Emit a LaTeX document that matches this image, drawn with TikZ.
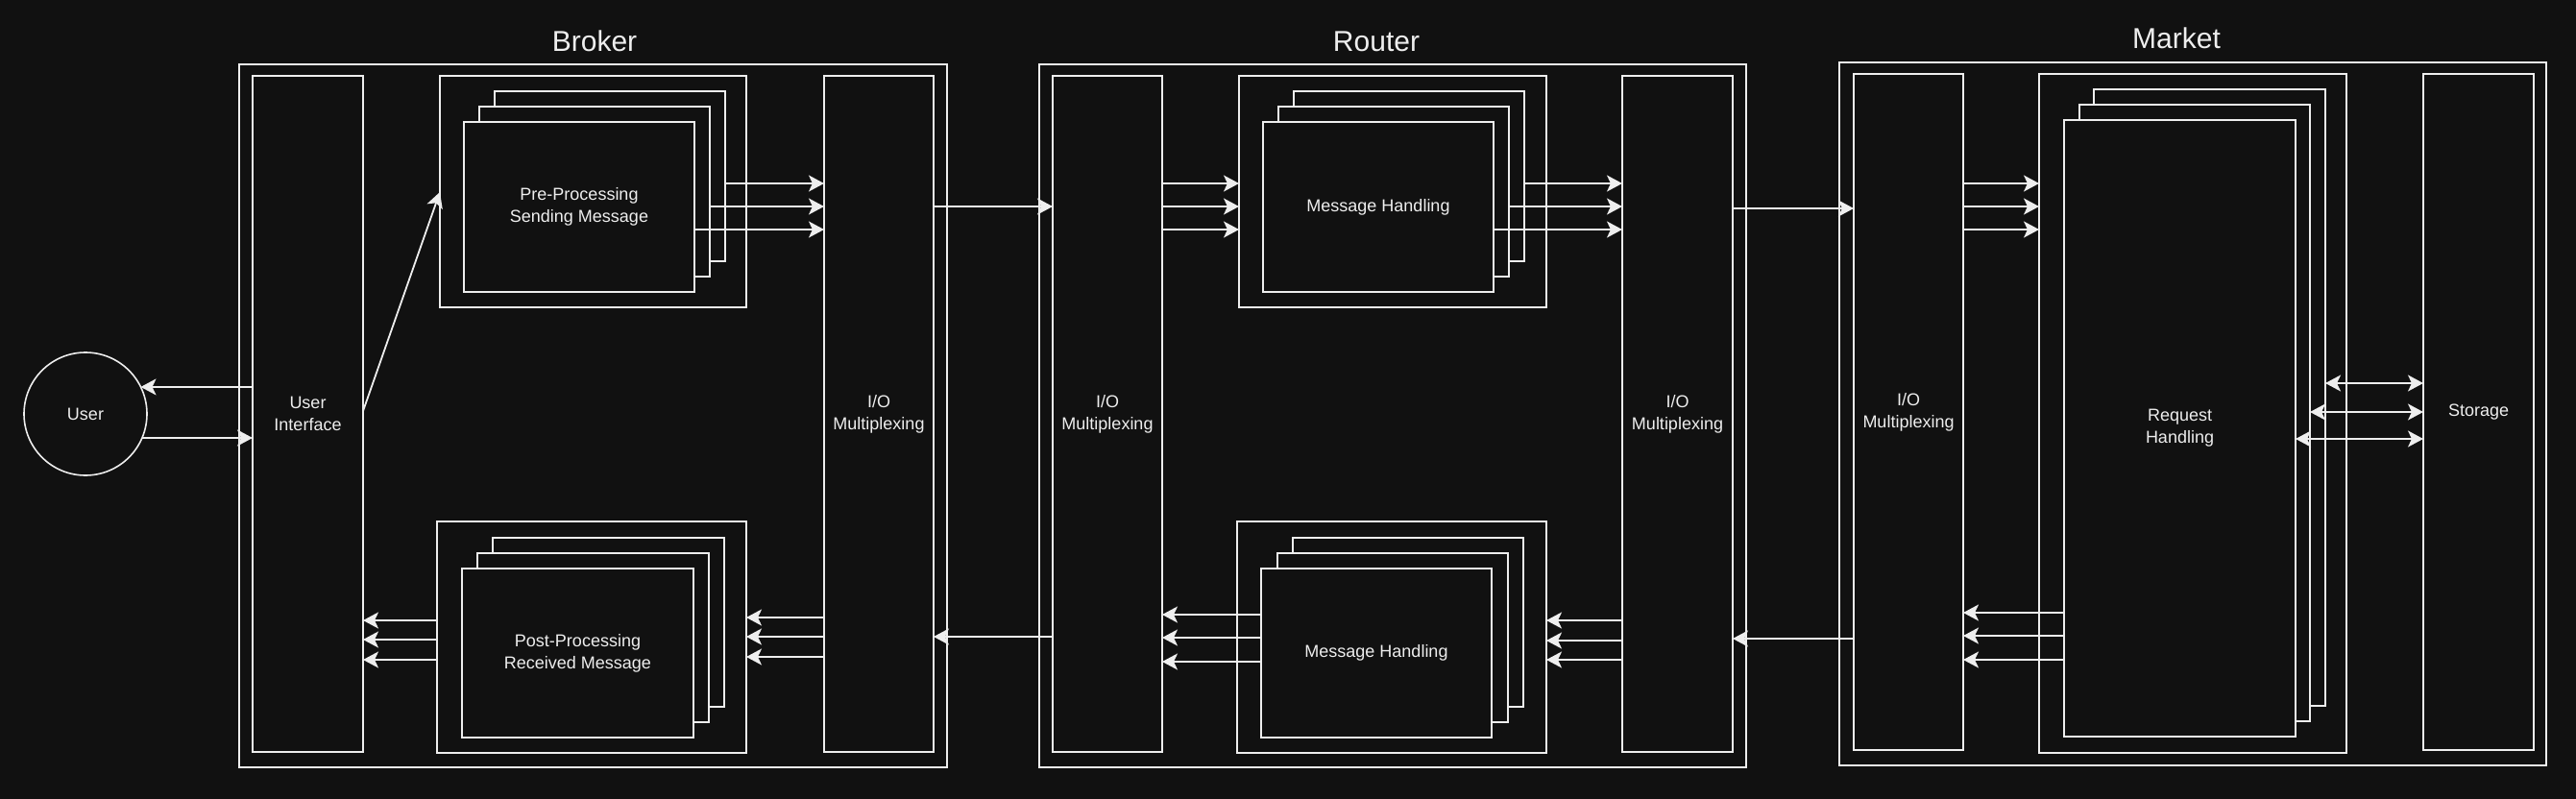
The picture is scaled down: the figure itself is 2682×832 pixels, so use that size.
\documentclass[tikz,border=0pt]{standalone}
\usepackage{fontspec}
\setmainfont{Liberation Sans}
\usetikzlibrary{arrows.meta}
\definecolor{bg}{HTML}{111111}
\definecolor{fg}{HTML}{EEEEEE}
\newcommand\mybox[6]{\node[box, minimum width={(#4-#2)*1pt}, minimum height={(#5-#3)*1pt}] (#1) at (#2,#3) {#6};}
\begin{document}
\begin{tikzpicture}[x=1pt,y=-1pt,
  box/.style={draw=fg, line width=1.6pt, fill=bg, inner sep=0pt, outer sep=0pt, anchor=north west, align=center, text=fg, font=\fontsize{18}{23}\selectfont},
  tip/.tip={Stealth[length=16pt,width=17pt,inset=4pt]},
  arr/.style={draw=fg, line width=1.8pt, -tip},
  barr/.style={draw=fg, line width=1.8pt, tip-tip},
  title/.style={text=fg, font=\fontsize{30}{36}\selectfont}]
\fill[bg] (0,0) rectangle (2682,832);
\useasboundingbox (0,0) rectangle (2682,832);
% titles
\node[title] (tbrk) at (619,43) {Broker};
\node[title] (trtr) at (1433,43) {Router};
\node[title] (tmkt) at (2266,40) {Market};
% Broker
\mybox{brk}{249}{67}{986}{799}{}
\mybox{ui}{263}{79}{378}{783}{User\\Interface}
\mybox{preo}{458}{79}{777}{320}{}
\mybox{preb}{515}{95}{755}{272}{}
\mybox{prem}{499}{111}{739}{288}{}
\mybox{pref}{483}{127}{723}{304}{Pre-Processing\\Sending Message}
\mybox{bio}{858}{79}{972}{783}{I/O\\Multiplexing}
\mybox{posto}{455}{543}{777}{784}{}
\mybox{postb}{513}{560}{754}{736}{}
\mybox{postm}{497}{576}{738}{752}{}
\mybox{postf}{481}{592}{722}{768}{Post-Processing\\Received Message}
\node[draw=fg, line width=1.6pt, circle, minimum size=128pt, inner sep=0pt, outer sep=0pt, text=fg, font=\fontsize{18}{23}\selectfont] (user) at (89,431) {User};
% Router
\mybox{rtr}{1082}{67}{1818}{799}{}
\mybox{rio1}{1096}{79}{1210}{783}{I/O\\Multiplexing}
\mybox{mhao}{1290}{79}{1610}{320}{}
\mybox{mhab}{1347}{95}{1587}{272}{}
\mybox{mham}{1331}{111}{1571}{288}{}
\mybox{mhaf}{1315}{127}{1555}{304}{Message Handling}
\mybox{rio2}{1689}{79}{1804}{783}{I/O\\Multiplexing}
\mybox{mhbo}{1288}{543}{1610}{784}{}
\mybox{mhbb}{1346}{560}{1586}{736}{}
\mybox{mhbm}{1330}{576}{1570}{752}{}
\mybox{mhbf}{1313}{592}{1553}{768}{Message Handling}
% Market
\mybox{mkt}{1915}{65}{2651}{797}{}
\mybox{mio}{1930}{77}{2044}{781}{I/O\\Multiplexing}
\mybox{reqo}{2123}{77}{2443}{784}{}
\mybox{reqb}{2180}{93}{2421}{735}{}
\mybox{reqm}{2165}{109}{2405}{751}{}
\mybox{reqf}{2149}{125}{2390}{767}{Request\\Handling}
\mybox{sto}{2523}{77}{2638}{781}{Storage}
% user arrows
\draw[arr] (ui.west |- user.26) -- (user.26);
\draw[arr] (user.-23) -- (ui.west |- user.-23);
\draw[arr] (ui.east |- 0,428) -- (preo.west |- 0,200);
% broker top
\draw[arr] (preb.east |- 0,191) -- (bio.west |- 0,191);
\draw[arr] (prem.east |- 0,215) -- (bio.west |- 0,215);
\draw[arr] (pref.east |- 0,239) -- (bio.west |- 0,239);
\draw[arr] (bio.east |- 0,215) -- (rio1.west |- 0,215);
% router top
\draw[arr] (rio1.east |- 0,191) -- (mhao.west |- 0,191);
\draw[arr] (rio1.east |- 0,215) -- (mhao.west |- 0,215);
\draw[arr] (rio1.east |- 0,239) -- (mhao.west |- 0,239);
\draw[arr] (mhab.east |- 0,191) -- (rio2.west |- 0,191);
\draw[arr] (mham.east |- 0,215) -- (rio2.west |- 0,215);
\draw[arr] (mhaf.east |- 0,239) -- (rio2.west |- 0,239);
\draw[arr] (rio2.east |- 0,217) -- (mio.west |- 0,217);
% market
\draw[arr] (mio.east |- 0,191) -- (reqo.west |- 0,191);
\draw[arr] (mio.east |- 0,215) -- (reqo.west |- 0,215);
\draw[arr] (mio.east |- 0,239) -- (reqo.west |- 0,239);
\draw[barr] (reqb.east |- 0,399) -- (sto.west |- 0,399);
\draw[barr] (reqm.east |- 0,429) -- (sto.west |- 0,429);
\draw[barr] (reqf.east |- 0,457) -- (sto.west |- 0,457);
\draw[arr] (reqf.west |- 0,638) -- (mio.east |- 0,638);
\draw[arr] (reqf.west |- 0,662) -- (mio.east |- 0,662);
\draw[arr] (reqf.west |- 0,687) -- (mio.east |- 0,687);
\draw[arr] (mio.west |- 0,665) -- (rio2.east |- 0,665);
% router bottom
\draw[arr] (rio2.west |- 0,646) -- (mhbo.east |- 0,646);
\draw[arr] (rio2.west |- 0,667) -- (mhbo.east |- 0,667);
\draw[arr] (rio2.west |- 0,687) -- (mhbo.east |- 0,687);
\draw[arr] (mhbf.west |- 0,640) -- (rio1.east |- 0,640);
\draw[arr] (mhbf.west |- 0,664) -- (rio1.east |- 0,664);
\draw[arr] (mhbf.west |- 0,689) -- (rio1.east |- 0,689);
\draw[arr] (rio1.west |- 0,663) -- (bio.east |- 0,663);
% broker bottom
\draw[arr] (bio.west |- 0,643) -- (posto.east |- 0,643);
\draw[arr] (bio.west |- 0,663) -- (posto.east |- 0,663);
\draw[arr] (bio.west |- 0,684) -- (posto.east |- 0,684);
\draw[arr] (posto.west |- 0,646) -- (ui.east |- 0,646);
\draw[arr] (posto.west |- 0,666) -- (ui.east |- 0,666);
\draw[arr] (posto.west |- 0,687) -- (ui.east |- 0,687);
\end{tikzpicture}
\end{document}
